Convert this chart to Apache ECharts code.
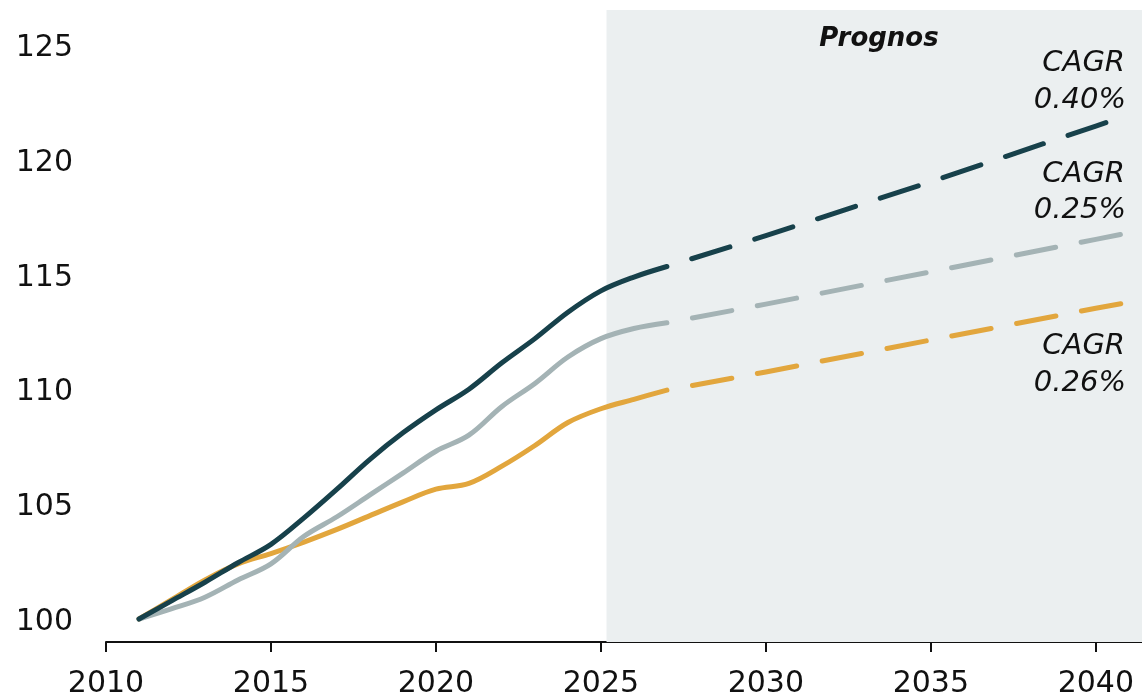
<!DOCTYPE html>
<html>
<head>
<meta charset="utf-8">
<script src="https://cdn.jsdelivr.net/npm/echarts@6/dist/echarts.min.js"></script>
<style>
html,body{margin:0;padding:0;background:#fff;}
#chart{width:1142px;height:698px;}
</style>
</head>
<body>
<div id="chart"></div>
<script>
// ---- data ----
const histYears = [2011,2012,2013,2014,2015,2016,2017,2018,2019,2020,2021,2022,2023,2024,2025,2026,2027];
const darkHist   = [100,100.8,101.6,102.45,103.25,104.4,105.65,106.95,108.1,109.1,110.0,111.15,112.2,113.35,114.28,114.88,115.34];
const grayHist   = [100,100.45,100.95,101.7,102.4,103.6,104.45,105.4,106.35,107.3,108.0,109.25,110.25,111.4,112.2,112.64,112.89];
const orangeHist = [100,100.85,101.7,102.4,102.85,103.35,103.9,104.5,105.1,105.65,105.9,106.65,107.55,108.55,109.15,109.56,109.96];

const forecastYears  = [2027,2030,2035,2040,2041];
const darkForecast   = [115.34,116.68,119.03,121.45,121.95];
const grayForecast   = [112.89,113.70,115.11,116.52,116.80];
const orangeForecast = [109.96,110.75,112.14,113.52,113.78];

const xTickLabels = [2010,2015,2020,2025,2030,2035,2040];
const yTickLabels = [100,105,110,115,120,125];
const forecastStart = 2025.17;
const forecastTitle = 'Prognos';
const cagrTitle = 'CAGR';
const cagrDark = '0.40%';
const cagrGray = '0.25%';
const cagrOrange = '0.26%';

// ---- styles ----
const C_DARK = '#17414b', C_GRAY = '#a4b3b5', C_ORANGE = '#e2a63d', C_SHADE = '#ebeff0';
const FONT = 'DejaVu Sans';
const X_MIN = 2010, X_MAX = 2041.4, Y_MIN = 99, Y_MAX = 126.5;
const DASH = [40, 26];

function pairs(xs, ys){ return xs.map((x,i)=>[x, ys[i]]); }

function solid(name, color, xs, ys, extra){
  return Object.assign({
    name, type:'line', data: pairs(xs, ys), symbol:'none', smooth:0.35,
    lineStyle:{color, width:5, cap:'round', join:'round'}, silent:true, z:3
  }, extra||{});
}
function dashed(name, color, xs, ys){
  return {
    name, type:'line', data: pairs(xs, ys), symbol:'none', smooth:false,
    lineStyle:{color, width:5, type:DASH, dashOffset:DASH[0], cap:'round', join:'round'}, silent:true, z:3
  };
}

const chart = echarts.init(document.getElementById('chart'), null, {renderer:'canvas'});
const textStyle = (t, x, y, opts) => ({
  type:'text', x, y, silent:true, z:10,
  style:Object.assign({text:t, fill:'#111', fontFamily:FONT, fontSize:29, fontStyle:'italic',
    textAlign:'right', textVerticalAlign:'middle'}, opts||{})
});

chart.setOption({
  animation:false,
  backgroundColor:'#fff',
  grid:{left:106, right:0, top:10, bottom:56, containLabel:false, outerBoundsMode:'none'},
  xAxis:{
    type:'value', min:X_MIN, max:X_MAX, interval:5,
    axisLine:{show:true, lineStyle:{color:'#111', width:2}},
    axisTick:{show:true, length:10, lineStyle:{color:'#111', width:2}, customValues:xTickLabels},
    axisLabel:{color:'#111', fontFamily:FONT, fontSize:30, margin:27, customValues:xTickLabels,
      formatter:v=>String(v)},
    splitLine:{show:false}
  },
  yAxis:{
    type:'value', min:Y_MIN, max:Y_MAX,
    axisLine:{show:false}, axisTick:{show:false},
    axisLabel:{color:'#111', fontFamily:FONT, fontSize:30, margin:33,
      customValues:yTickLabels, formatter:v=>'{t|' + v + '}',
      rich:{t:{color:'#111', fontFamily:FONT, fontSize:30, padding:[7,0,0,0]}}},
    splitLine:{show:false}
  },
  series:[
    solid('orange', C_ORANGE, histYears, orangeHist, {
      markArea:{silent:true, itemStyle:{color:C_SHADE}, z:1,
        data:[[{xAxis:forecastStart},{xAxis:X_MAX}]]}
    }),
    dashed('orangeF', C_ORANGE, forecastYears, orangeForecast),
    solid('gray', C_GRAY, histYears, grayHist),
    dashed('grayF', C_GRAY, forecastYears, grayForecast),
    solid('dark', C_DARK, histYears, darkHist),
    dashed('darkF', C_DARK, forecastYears, darkForecast)
  ],
  graphic:[
    textStyle(forecastTitle, 879, 39, {textAlign:'center', fontWeight:'bold', fontSize:26}),
    textStyle(cagrTitle, 1125, 63),
    textStyle(cagrDark, 1126, 100),
    textStyle(cagrTitle, 1125, 174),
    textStyle(cagrGray, 1126, 210),
    textStyle(cagrTitle, 1125, 346),
    textStyle(cagrOrange, 1126, 383)
  ]
});
</script>
</body>
</html>
